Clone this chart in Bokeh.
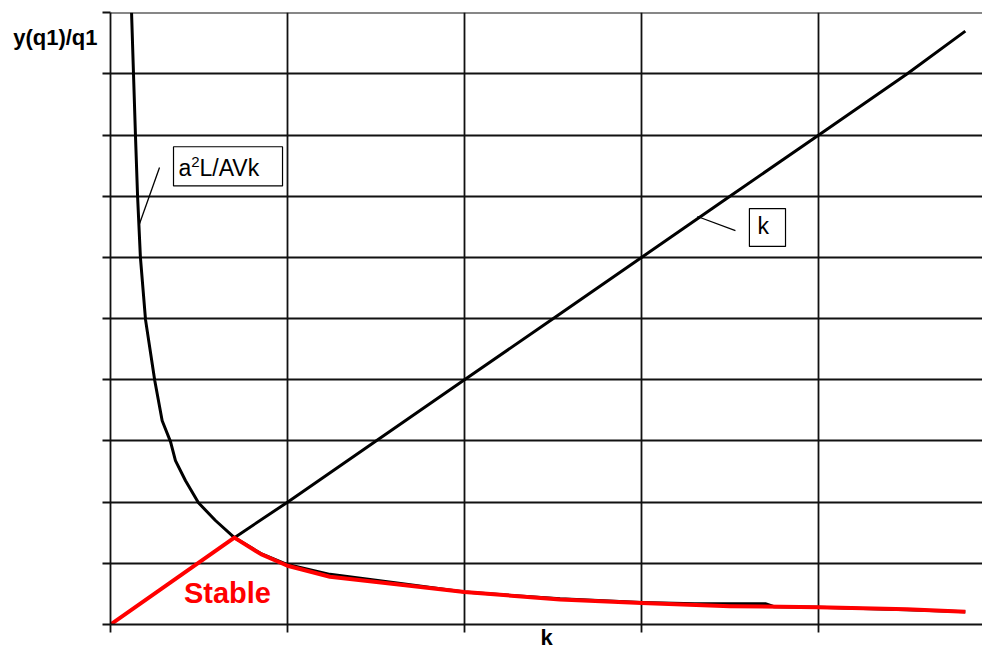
from bokeh.plotting import figure
from bokeh.models import FixedTicker, Range1d
from bokeh.embed import file_html
from bokeh.resources import INLINE
from bokeh.core.properties import value

# ---- data ----
curve_k = [0.119, 0.130, 0.141, 0.153, 0.169, 0.198, 0.250, 0.292, 0.339, 0.367, 0.424,
           0.497, 0.593, 0.70, 0.85, 1.0, 1.24, 1.64, 2.0, 2.54, 3.0, 3.3, 3.7, 3.75, 4.0, 4.5, 4.83]
curve_y = [10.0, 9.0, 8.0, 7.0, 6.0, 4.98, 3.99, 3.33, 2.99, 2.68, 2.35,
           1.99, 1.70, 1.42, 1.16, 0.98, 0.82, 0.67, 0.53, 0.42, 0.36, 0.34, 0.34, 0.29, 0.28, 0.24, 0.21]

line_k = [0.70, 1.0, 1.5, 2.0, 2.5, 3.0, 3.5, 4.0, 4.5, 4.83]
line_y = [1.42, 2.0, 3.0, 4.0, 5.0, 6.0, 7.0, 8.0, 9.0, 9.7]

stable_k = [0.0, 0.70, 0.85, 1.0, 1.24, 1.64, 2.0, 2.54, 3.0, 3.5, 4.0, 4.5, 4.83]
stable_y = [0.0, 1.42, 1.15, 0.96, 0.78, 0.65, 0.53, 0.41, 0.35, 0.30, 0.28, 0.25, 0.21]

x_ticks = [0, 1, 2, 3, 4, 5]
y_ticks = [0, 1, 2, 3, 4, 5, 6, 7, 8, 9, 10]

FONT = "Liberation Sans"
LINE = "#111111"

p = figure(width=982, height=652, output_backend="svg", toolbar_location=None,
           x_range=Range1d(0, 4.927), y_range=Range1d(0, 10.005),
           min_border_left=110, min_border_right=0, min_border_top=12, min_border_bottom=28)
p.outline_line_color = None
p.background_fill_color = "white"
p.border_fill_color = "white"

for ax, ticks in ((p.xaxis, x_ticks), (p.yaxis, y_ticks)):
    ax.ticker = FixedTicker(ticks=ticks)
    ax.major_label_text_font_size = "0px"
    ax.major_label_standoff = 0
    ax.major_tick_in = 0
    ax.major_tick_out = 8
    ax.major_tick_line_color = LINE
    ax.major_tick_line_width = 1.8
    ax.minor_tick_line_color = None
    ax.axis_line_color = LINE
    ax.axis_line_width = 1.8
    ax.axis_label_text_font = FONT
    ax.axis_label_text_font_size = "22px"
    ax.axis_label_text_font_style = "bold"
    ax.axis_label_text_color = "black"

p.xaxis.axis_label = "k"
p.xaxis.axis_label_standoff = -8

p.yaxis.axis_label = "\ny(q1)/q1"
p.yaxis.axis_label_orientation = "horizontal"
p.yaxis.axis_label_align = "end"
p.yaxis.axis_label_standoff = 5
p.yaxis.axis_label_text_line_height = 2.0

p.xgrid.ticker = FixedTicker(ticks=x_ticks)
p.ygrid.ticker = FixedTicker(ticks=y_ticks)
for g in (p.xgrid, p.ygrid):
    g.grid_line_color = LINE
    g.grid_line_width = 1.8
    g.grid_line_alpha = 1.0

# curves
p.line(curve_k, curve_y, line_color="black", line_width=3, line_join="round")
p.line(line_k, line_y, line_color="black", line_width=3, line_join="round")
p.line(stable_k, stable_y, line_color="#ff0000", line_width=4, line_join="round")

# callout boxes and leader lines
p.quad(left=[0.356], right=[0.972], bottom=[7.17], top=[7.81],
       fill_color="white", line_color="black", line_width=1.2)
p.segment(x0=[0.277], y0=[7.47], x1=[0.164], y1=[6.55], line_color="black", line_width=1.3)
p.text(x=[0.384], y=[7.47], text=["a"], text_align="left", text_baseline="middle",
       text_font=value(FONT), text_font_size="23px", text_color="black")
p.text(x=[0.456], y=[7.56], text=["2"], text_align="left", text_baseline="middle",
       text_font=value(FONT), text_font_size="15px", text_color="black")
p.text(x=[0.503], y=[7.47], text=["L/AVk"], text_align="left", text_baseline="middle",
       text_font=value(FONT), text_font_size="23px", text_color="black")

p.quad(left=[3.610], right=[3.814], bottom=[6.18], top=[6.80],
       fill_color="white", line_color="black", line_width=1.2)
p.segment(x0=[3.316], y0=[6.67], x1=[3.531], y1=[6.44], line_color="black", line_width=1.3)
p.text(x=[3.655], y=[6.51], text=["k"], text_align="left", text_baseline="middle",
       text_font=value(FONT), text_font_size="23px", text_color="black")

p.text(x=[0.661], y=[0.52], text=["Stable"], text_align="center", text_baseline="middle",
       text_font=value(FONT), text_font_size="29px", text_font_style="bold", text_color="#ff0000")

open("out.html", "w").write(file_html(p, INLINE))
